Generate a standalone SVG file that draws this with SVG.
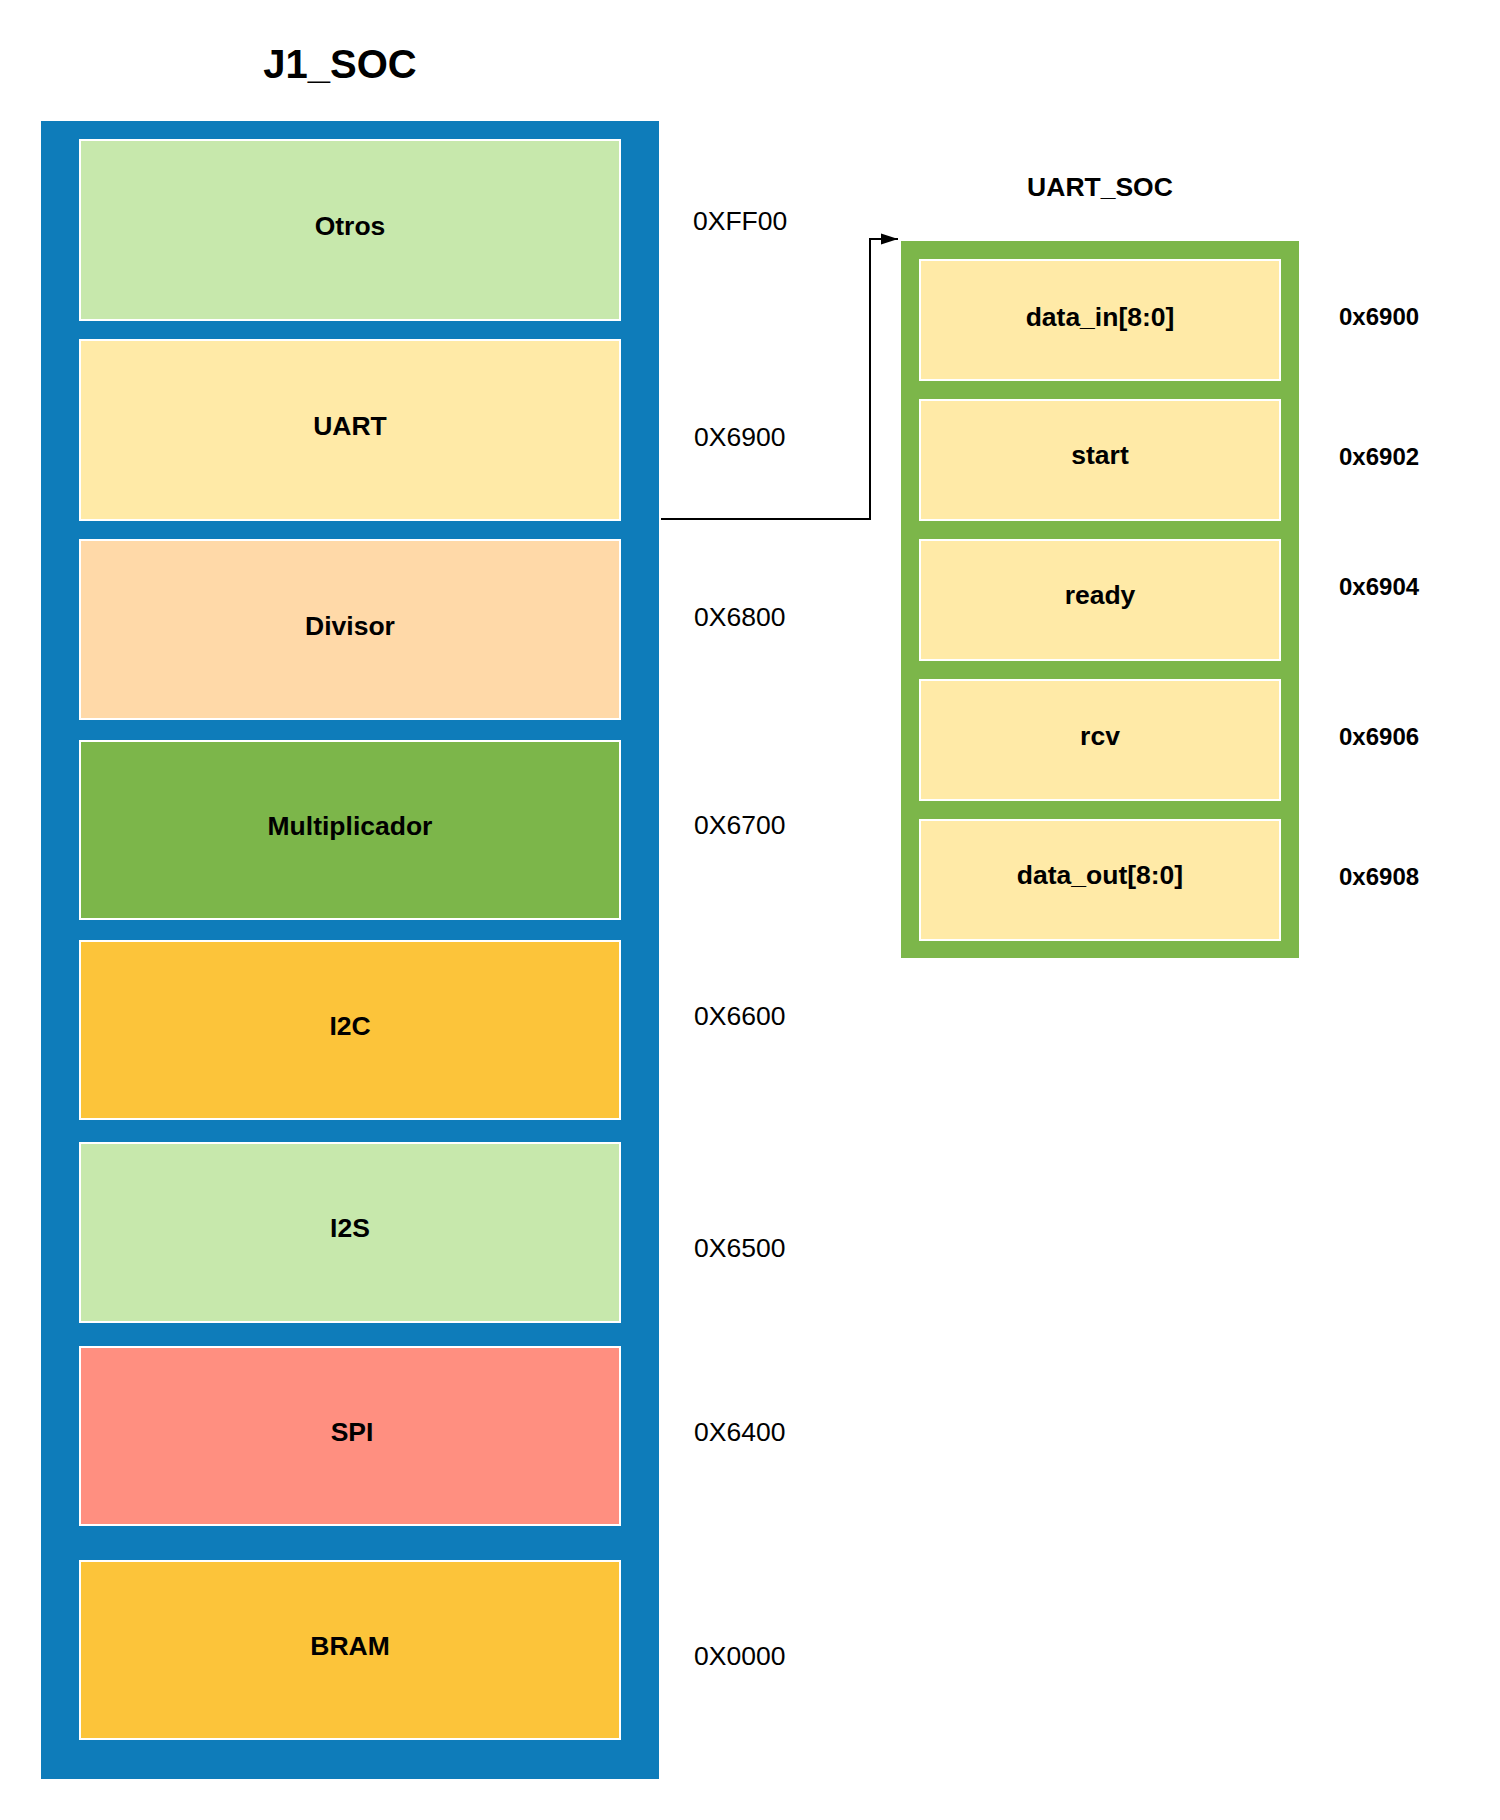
<svg xmlns="http://www.w3.org/2000/svg" width="1500" height="1820" viewBox="0 0 1500 1820">
<style>
.blk{stroke:#ffffff;stroke-width:2}
.lbl{font-family:"Liberation Sans",Arial,sans-serif;font-weight:bold;font-size:26.5px;fill:#000;text-anchor:middle}
.addr{font-family:"Liberation Sans",Arial,sans-serif;font-size:26.5px;fill:#000;text-anchor:start}
.raddr{font-family:"Liberation Sans",Arial,sans-serif;font-weight:bold;font-size:24px;fill:#000;text-anchor:start}
.title{font-family:"Liberation Sans",Arial,sans-serif;font-weight:bold;fill:#000;text-anchor:middle}
</style>
<defs>
<marker id="arr" markerUnits="userSpaceOnUse" markerWidth="18" markerHeight="12" refX="17" refY="6" orient="auto">
<path d="M0,0.5 L17,6 L0,11.5 Z" fill="#000"/>
</marker>
</defs>
<rect id="bg" width="1500" height="1820" fill="#ffffff"/>
<text class="title" x="340" y="78" font-size="40">J1_SOC</text>
<g id="j1_soc">
<rect x="41" y="121" width="618" height="1658" fill="#0E7CBA"/>
</g>
<g id="otros"><rect class="blk" x="80" y="140" width="540" height="180" fill="#C7E8AC"/><text class="lbl" x="350" y="235">Otros</text></g>
<g id="uart"><rect class="blk" x="80" y="340" width="540" height="180" fill="#FFEAA7"/><text class="lbl" x="350" y="435">UART</text></g>
<g id="divisor"><rect class="blk" x="80" y="540" width="540" height="179" fill="#FFD9A8"/><text class="lbl" x="350" y="635">Divisor</text></g>
<g id="multiplicador"><rect class="blk" x="80" y="741" width="540" height="178" fill="#7CB64A"/><text class="lbl" x="350" y="835">Multiplicador</text></g>
<g id="i2c"><rect class="blk" x="80" y="941" width="540" height="178" fill="#FCC43A"/><text class="lbl" x="350" y="1035">I2C</text></g>
<g id="i2s"><rect class="blk" x="80" y="1143" width="540" height="179" fill="#C7E8AC"/><text class="lbl" x="350" y="1237">I2S</text></g>
<g id="spi"><rect class="blk" x="80" y="1347" width="540" height="178" fill="#FF8F80"/><text class="lbl" x="352" y="1441">SPI</text></g>
<g id="bram"><rect class="blk" x="80" y="1561" width="540" height="178" fill="#FCC43A"/><text class="lbl" x="350" y="1655">BRAM</text></g>
<g id="addresses">
<text class="addr" x="693" y="230">0XFF00</text>
<text class="addr" x="694" y="446">0X6900</text>
<text class="addr" x="694" y="626">0X6800</text>
<text class="addr" x="694" y="834">0X6700</text>
<text class="addr" x="694" y="1025">0X6600</text>
<text class="addr" x="694" y="1257">0X6500</text>
<text class="addr" x="694" y="1441">0X6400</text>
<text class="addr" x="694" y="1665">0X0000</text>
</g>
<text class="title" x="1100" y="196" font-size="26.5">UART_SOC</text>
<g id="uart_soc">
<rect x="901" y="241" width="398" height="717" fill="#7CB64A"/>
</g>
<g id="data_in"><rect class="blk" x="920" y="260" width="360" height="120" fill="#FFEAA7"/><text class="lbl" x="1100" y="326">data_in[8:0]</text></g>
<g id="start"><rect class="blk" x="920" y="400" width="360" height="120" fill="#FFEAA7"/><text class="lbl" x="1100" y="464">start</text></g>
<g id="ready"><rect class="blk" x="920" y="540" width="360" height="120" fill="#FFEAA7"/><text class="lbl" x="1100" y="604">ready</text></g>
<g id="rcv"><rect class="blk" x="920" y="680" width="360" height="120" fill="#FFEAA7"/><text class="lbl" x="1100" y="745">rcv</text></g>
<g id="data_out"><rect class="blk" x="920" y="820" width="360" height="120" fill="#FFEAA7"/><text class="lbl" x="1100" y="884">data_out[8:0]</text></g>
<g id="reg_addresses">
<text class="raddr" x="1339" y="325">0x6900</text>
<text class="raddr" x="1339" y="465">0x6902</text>
<text class="raddr" x="1339" y="595">0x6904</text>
<text class="raddr" x="1339" y="745">0x6906</text>
<text class="raddr" x="1339" y="885">0x6908</text>
</g>
<g id="connectors">
<path d="M661,519 H870 V239 H898" fill="none" stroke="#000" stroke-width="2" marker-end="url(#arr)"/>
</g>
</svg>
